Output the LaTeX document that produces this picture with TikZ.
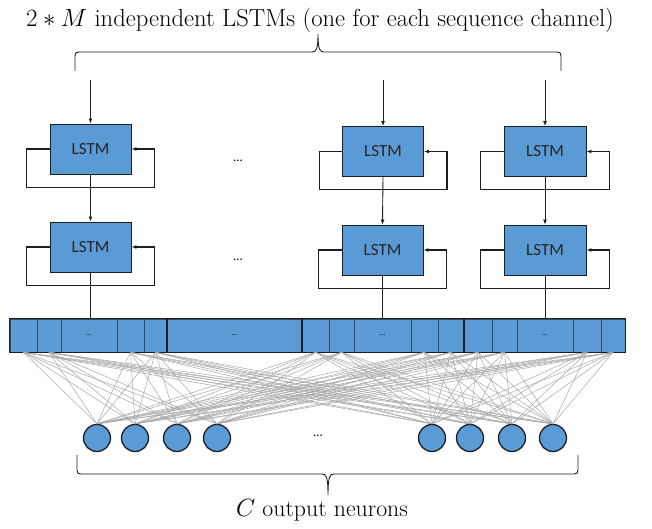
\documentclass[tikz,border=0pt]{standalone}
\usepackage{fontspec}
\newfontfamily\lstmfont{Carlito}
\usetikzlibrary{arrows.meta,positioning,calc}
\definecolor{NetBlue}{HTML}{5B9BD5}
\definecolor{NetEdge}{HTML}{1E1E1E}
\definecolor{NetCell}{HTML}{3A4A5A}
\definecolor{NetWire}{HTML}{A8A8A8}
\tikzset{
  flow/.style={-{Latex[length=5pt,width=4pt]},NetEdge,line width=0.9pt},
  loop/.style={flow,line width=1.1pt},
  lstm/.style={draw=NetEdge,line width=0.9pt,fill=NetBlue,minimum height=50pt,
               inner sep=0pt,font=\lstmfont\fontsize{17}{20}\selectfont,text=black!85},
  cell/.style={draw=NetCell,line width=0.6pt,fill=NetBlue,minimum height=33pt,
               inner sep=0pt,font=\lstmfont\fontsize{8}{9}\selectfont},
  groupline/.style={draw=NetEdge,line width=1.3pt},
  neuron/.style={circle,draw=NetEdge,line width=1.3pt,fill=NetBlue,minimum size=27pt,inner sep=0pt},
  wire/.style={NetWire,line width=0.5pt},
  dots/.style={font=\lstmfont\fontsize{13}{15}\selectfont},
  bracepen/.style={NetEdge,line width=0.9pt},
  caption/.style={font=\fontsize{24.6}{29}\selectfont,anchor=base},
}
\begin{document}
\begin{tikzpicture}[x=1pt,y=-1pt]
  \useasboundingbox (0,0) rectangle (652,529);

  % title and top brace
  \node[caption] (title) at (320,27) {$2*M$ independent LSTMs (one for each sequence channel)};
  \draw[bracepen] (75,71) -- (75,56) .. controls (75,53) and (76,52) .. (79,52) -- (312,52)
    .. controls (316,52) and (318,50) .. (318,34) .. controls (318,50) and (320,52) .. (324,52)
    -- (557,52) .. controls (560,52) and (561,53) .. (561,56) -- (561,71);

  % LSTM columns
  \node[lstm,minimum width=81pt] (lstmA1) at (90.5,149) {LSTM};
  \node[lstm,minimum width=81pt] (lstmA2) at (90.5,247) {LSTM};
  \node[lstm,minimum width=81pt] (lstmB1) at (383,151.5) {LSTM};
  \node[lstm,minimum width=81pt] (lstmB2) at (382.5,250) {LSTM};
  \node[lstm,minimum width=82pt] (lstmC1) at (545,151.5) {LSTM};
  \node[lstm,minimum width=82pt] (lstmC2) at (545,250) {LSTM};

  \node[dots] (dotsUp) at (238,161) {...};
  \node[dots] (dotsLow) at (238,260) {...};

  \coordinate (inA) at (90.5,80);
  \coordinate (inB) at (383,80);
  \coordinate (inC) at (545,80);
  \draw[flow] (inA) -- (lstmA1.north);
  \draw[flow] (inB) -- (lstmB1.north);
  \draw[flow] (inC) -- (lstmC1.north);
  \draw[flow] (lstmA1.south) -- (lstmA2.north);
  \draw[flow] (lstmB1.south) -- (lstmB2.north);
  \draw[flow] (lstmC1.south) -- (lstmC2.north);

  % recurrent loops
  \foreach \b in {lstmA1,lstmA2,lstmB1,lstmB2,lstmC1,lstmC2}
    \draw[loop] (\b.west) -- ++(-23,0) |- ([yshift=-13pt]\b.south) -| ([xshift=23pt]\b.east) -- (\b.east);

  % concatenated outputs
  \foreach \n/\l/\r/\t in {a1/10/37/,a2/37/61/,a3/61/117/\ldots,a4/117/144/,a5/144/167/,
                           mid/167/302/\ldots,
                           b1/302/329/,b2/329/354/,b3/354/411/\ldots,b4/411/438/,b5/438/464/,
                           c1/464/492/,c2/492/517/,c3/517/573/\ldots,c4/573/601/,c5/601/625/}
    {
      \pgfmathsetmacro{\cx}{(\l+\r)/2}
      \pgfmathsetmacro{\w}{\r-\l}
      \node[cell,minimum width=\w pt] (\n) at (\cx,335.5) {\t};
    }
  \draw[groupline] (a1.north west) rectangle (a5.south east);
  \draw[groupline] (mid.north west) rectangle (mid.south east);
  \draw[groupline] (b1.north west) rectangle (b5.south east);
  \draw[groupline] (c1.north west) rectangle (c5.south east);

  \draw[line width=1pt,NetEdge] (lstmA2.south) -- (a3.north -| lstmA2.south);
  \draw[line width=1pt,NetEdge] (lstmB2.south) -- (b3.north -| lstmB2.south);
  \draw[line width=1pt,NetEdge] (lstmC2.south) -- (c3.north -| lstmC2.south);

  % output layer
  \foreach \n/\x in {n1/97,n2/135,n3/177,n4/217,n5/432,n6/470,n7/512,n8/553}
    \node[neuron] (\n) at (\x,438) {};
  \node[dots] (dotsOut) at (318,436) {...};

  \foreach \s in {a1,a2,a4,a5,b1,b2,b4,b5,c1,c2,c4,c5}
    \foreach \n in {n1,n2,n3,n4,n5,n6,n7,n8}
      \draw[wire] (\s.south) -- (\n.north);

  % bottom brace
  \draw[bracepen] (77,455) -- (77,470) .. controls (77,473) and (78,474) .. (81,474) -- (322,474)
    .. controls (326,474) and (328,476) .. (328,495) .. controls (328,476) and (330,474) .. (334,474)
    -- (574,474) .. controls (577,474) and (578,473) .. (578,470) -- (578,455);
  \node[caption,font=\fontsize{23.8}{28}\selectfont] (outlabel) at (322,516) {$C$ output neurons};
\end{tikzpicture}
\end{document}
